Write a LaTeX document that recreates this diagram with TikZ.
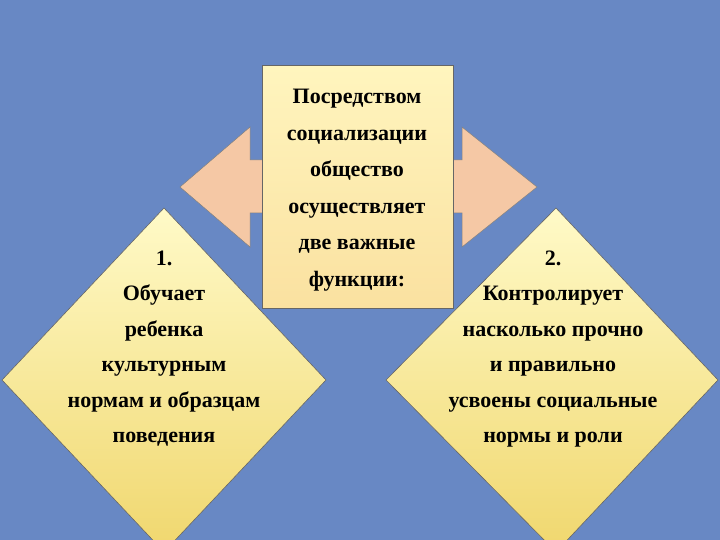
\documentclass[tikz,border=0pt]{standalone}
\usepackage{fontspec}
\setmainfont{Liberation Serif}
\definecolor{bg}{RGB}{104,136,196}
\definecolor{dtop}{RGB}{255,250,200}
\definecolor{dbot}{RGB}{240,215,110}
\definecolor{btop}{RGB}{255,245,190}
\definecolor{bbot}{RGB}{250,225,160}
\definecolor{arf}{RGB}{245,200,165}
\begin{document}
\begin{tikzpicture}[x=1pt,y=-1pt,
  lbl/.style={align=center,font=\bfseries\fontsize{22}{35.5}\selectfont,text=black},
  dia/.style={draw=black!60,line width=0.6pt,top color=dtop,bottom color=dbot},
  arr/.style={draw=black!50,line width=0.5pt,fill=arf}]
\useasboundingbox (0,0) rectangle (720,540);
\fill[bg] (0,0) rectangle (720,540);
% arrows
\draw[arr] (300,160) -- (250,160) -- (250,127) -- (180,187) -- (250,247) -- (250,213) -- (300,213);
\draw[arr] (420,160) -- (462,160) -- (462,127) -- (537,187) -- (462,247) -- (462,213) -- (420,213);
% diamonds
\draw[dia] (164,208) -- (326,380) -- (164,552) -- (2,380) -- cycle;
\draw[dia] (556,208) -- (718,380) -- (556,552) -- (386,380) -- cycle;
% central box
\node[draw=black!60,line width=0.6pt,top color=btop,bottom color=bbot,minimum width=191,minimum height=243,anchor=north west,inner sep=0] (box) at (262,65) {};
\node[lbl,anchor=north,font=\bfseries\fontsize{22}{36.5}\selectfont] (t) at (357,86) {Посредством\\социализации\\общество\\осуществляет\\две важные\\функции:};
\node[lbl,anchor=north] (l) at (164,247) {1.\\Обучает\\ребенка\\культурным\\нормам и образцам\\поведения};
\node[lbl,anchor=north] (r) at (553,247) {2.\\Контролирует\\насколько прочно\\и правильно\\усвоены социальные\\нормы и роли};
\end{tikzpicture}
\end{document}
